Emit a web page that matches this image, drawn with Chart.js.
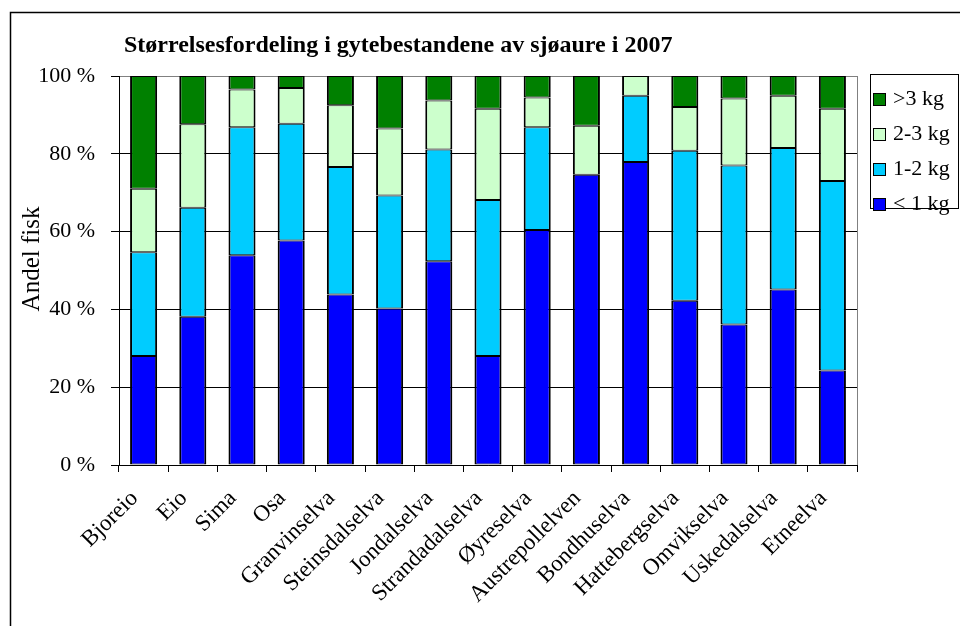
<!DOCTYPE html>
<html>
<head>
<meta charset="utf-8">
<script src="https://cdn.jsdelivr.net/npm/chart.js@4/dist/chart.umd.min.js"></script>
<style>
    html, body { margin: 0; padding: 0; background: #fff; }
    #wrap { width: 960px; height: 626px; }
</style>
</head>
<body>
<div id="wrap"><canvas id="sizeChart"></canvas></div>
<script>
const SERIF = '"Liberation Serif", "Times New Roman", serif';

const rivers = ['Bjoreio', 'Eio', 'Sima', 'Osa', 'Granvinselva', 'Steinsdalselva', 'Jondalselva',
                'Strandadalselva', 'Øyreselva', 'Austrepollelven', 'Bondhuselva', 'Hattebergselva',
                'Omvikselva', 'Uskedalselva', 'Etneelva'];

// share of fish in each size group (%)
const under1kg = [28.0, 38.1, 53.9, 57.7, 43.8, 40.2, 52.4, 28.0, 60.4, 74.6, 77.9, 42.2, 36.1, 45.1, 24.3];
const kg1to2   = [26.7, 28.0, 32.9, 30.0, 32.8, 29.1, 28.7, 40.1, 26.4, 0, 17.0, 38.6, 40.9, 36.4, 48.7];
const kg2to3   = [16.3, 21.5, 9.7, 9.2, 15.9, 17.2, 12.6, 23.5, 7.7, 12.6, 5.1, 11.2, 17.2, 13.4, 18.6];
const over3kg  = [29.0, 12.4, 3.5, 3.1, 7.5, 13.5, 6.3, 8.4, 5.5, 12.8, 0, 8.0, 5.8, 5.1, 8.4];

const yTicks = [0, 20, 40, 60, 80, 100];

const chartTitle = 'Størrelsesfordeling i gytebestandene av sjøaure i 2007';
const yTitle = 'Andel fisk';

function makeSet(label, data, color) {
    return {
        label: label,
        data: data,
        backgroundColor: color,
        borderColor: '#000',
        borderWidth: { top: 1, bottom: 1, left: 2, right: 2 },
        borderSkipped: false,
        barPercentage: 0.55,
        categoryPercentage: 1.0
    };
}

// frame, titles, plot border and legend box
const decorations = {
    id: 'decorations',
    afterDraw(chart) {
        const ctx = chart.ctx;
        const area = chart.chartArea;
        ctx.save();

        // outer frame (runs off the right and bottom)
        ctx.strokeStyle = '#000';
        ctx.lineWidth = 1.5;
        ctx.strokeRect(10.5, 12.5, 2000, 2000);

        // grey right edge of plot
        ctx.strokeStyle = '#808080';
        ctx.lineWidth = 1;
        ctx.beginPath();
        ctx.moveTo(Math.round(area.right) + 0.5, area.top);
        ctx.lineTo(Math.round(area.right) + 0.5, area.bottom);
        ctx.stroke();

        // title
        ctx.fillStyle = '#000';
        ctx.font = 'bold 24px ' + SERIF;
        ctx.textBaseline = 'alphabetic';
        ctx.textAlign = 'left';
        ctx.fillText(chartTitle, 124, 52);

        // y axis title
        ctx.save();
        ctx.translate(32, 259);
        ctx.rotate(-Math.PI / 2);
        ctx.font = '25px ' + SERIF;
        ctx.textAlign = 'center';
        ctx.textBaseline = 'middle';
        ctx.fillText(yTitle, 0, 0);
        ctx.restore();

        // legend
        const lx = 870, ly = 74, lw = 88, lh = 134;
        ctx.fillStyle = '#fff';
        ctx.fillRect(lx, ly, lw, lh);
        ctx.strokeStyle = '#000';
        ctx.lineWidth = 1;
        ctx.strokeRect(lx + 0.5, ly + 0.5, lw, lh);
        ctx.font = '22px ' + SERIF;
        ctx.textBaseline = 'middle';
        ctx.textAlign = 'left';
        const sets = chart.data.datasets.slice().reverse();
        sets.forEach((ds, i) => {
            const cy = ly + 25 + i * 35;
            ctx.fillStyle = ds.backgroundColor;
            ctx.fillRect(lx + 3, cy - 6, 12, 12);
            ctx.strokeStyle = '#000';
            ctx.strokeRect(lx + 3.5, cy - 5.5, 12, 12);
            ctx.fillStyle = '#000';
            ctx.fillText(ds.label, lx + 23, cy);
        });
        ctx.restore();
    }
};

const ctx = document.getElementById('sizeChart').getContext('2d');
const sizeChart = new Chart(ctx, {
    type: 'bar',
    data: {
        labels: rivers,
        datasets: [
            makeSet('< 1 kg', under1kg, '#0000ff'),
            makeSet('1-2 kg', kg1to2, '#00ccff'),
            makeSet('2-3 kg', kg2to3, '#ccffcc'),
            makeSet('>3 kg', over3kg, '#008000')
        ]
    },
    options: {
        responsive: true,
        maintainAspectRatio: false,
        animation: false,
        layout: { padding: { top: 76, right: 103, left: 0, bottom: 0 } },
        plugins: {
            legend: { display: false },
            title: { display: false },
            tooltip: { enabled: false }
        },
        scales: {
            x: {
                stacked: true,
                afterFit: (scale) => { scale.height = 161; },
                grid: {
                    offset: true,
                    drawOnChartArea: false,
                    tickLength: 7,
                    color: '#000'
                },
                border: { color: '#000', width: 1 },
                ticks: {
                    color: '#000',
                    font: { family: SERIF, size: 23 },
                    minRotation: 45,
                    maxRotation: 45,
                    autoSkip: false,
                    padding: 13,
                    labelOffset: -9
                }
            },
            y: {
                stacked: true,
                min: 0,
                max: 100,
                afterFit: (scale) => { scale.width = 119; },
                afterBuildTicks: (scale) => { scale.ticks = yTicks.map(v => ({ value: v })); },
                grid: {
                    color: (c) => c.tick && c.tick.value === 100 ? '#808080' : '#000',
                    tickColor: '#000',
                    tickLength: 8
                },
                border: { color: '#000', width: 1 },
                ticks: {
                    color: '#000',
                    font: { family: SERIF, size: 22 },
                    padding: 16,
                    callback: (v) => v + ' %'
                }
            }
        }
    },
    plugins: [decorations]
});
</script>
</body>
</html>
